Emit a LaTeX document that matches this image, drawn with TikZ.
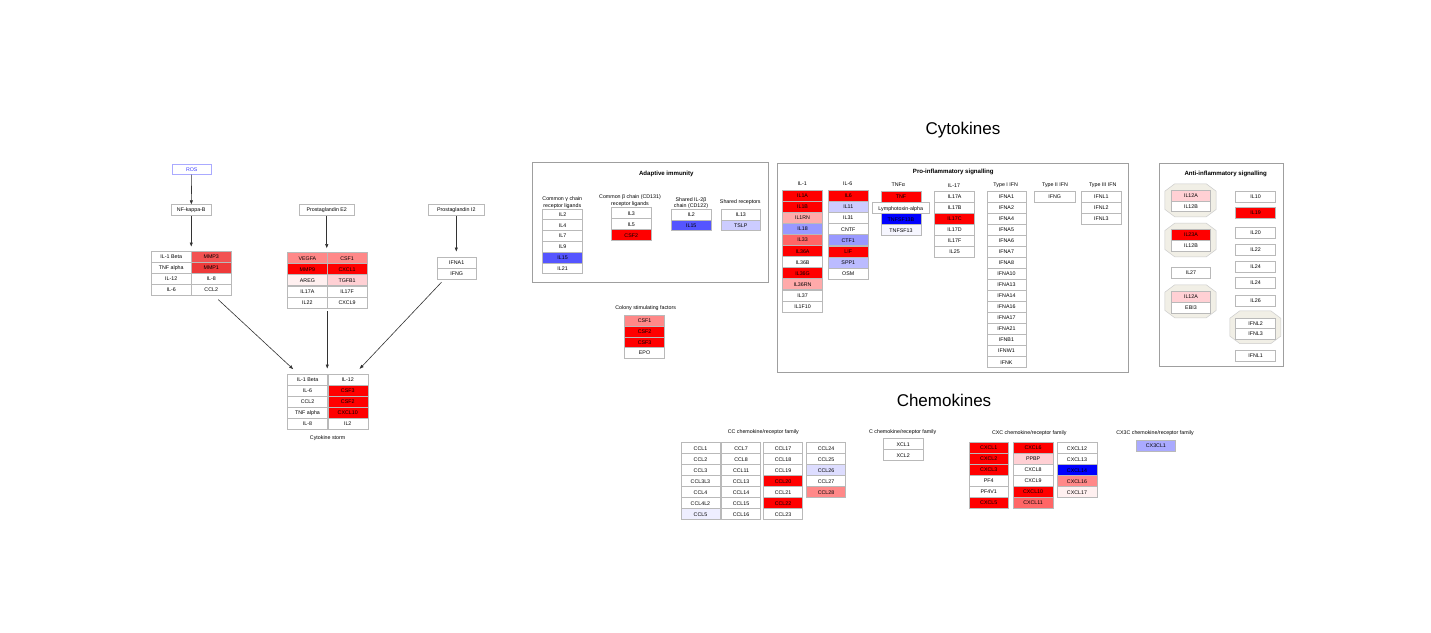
\documentclass[tikz,border=0pt]{standalone}
\usepackage{fontspec}
\setmainfont{Liberation Sans}
\usepackage{tikz}
\usetikzlibrary{arrows.meta, positioning, fit, calc}

% expression colours
\definecolor{r100}{HTML}{FF0000}
\definecolor{r80}{HTML}{EE3A3A}
\definecolor{r70}{HTML}{F25252}
\definecolor{r60}{HTML}{FF6666}
\definecolor{r50}{HTML}{FF8888}
\definecolor{r35}{HTML}{FFAAAA}
\definecolor{r20}{HTML}{FFD0D4}
\definecolor{r05}{HTML}{FFF0F0}
\definecolor{b100}{HTML}{0000FF}
\definecolor{b70}{HTML}{5555FF}
\definecolor{b45}{HTML}{9999FF}
\definecolor{b35}{HTML}{AAAAFF}
\definecolor{b30}{HTML}{BBBBFF}
\definecolor{b20}{HTML}{CCCCFF}
\definecolor{b15}{HTML}{DDDDFF}
\definecolor{b08}{HTML}{EEEEFF}
\definecolor{b04}{HTML}{F6F6FF}
\definecolor{cplxfill}{HTML}{F1EFE6}

\newcommand{\genefont}{\fontsize{5.3pt}{6.3pt}\selectfont}
\newcommand{\headfont}{\fontsize{6.1pt}{7pt}\selectfont\bfseries}
\newcommand{\bigfont}{\fontsize{17pt}{20pt}\selectfont}

\begin{document}
\begin{tikzpicture}[
    x=1pt, y=-1pt,
    gene/.style={draw=gray!55, fill=white, line width=0.5pt, font=\genefont, minimum width=40pt, minimum height=11pt, inner sep=0pt, anchor=north west, text height=3.9pt, text depth=0pt},
    grplbl/.style={font=\genefont, align=center, inner sep=0pt},
    head/.style={font=\headfont, inner sep=0pt},
    frame/.style={draw=gray!75, line width=0.7pt, inner sep=0pt, anchor=north west},
    cplxnode/.style={inner sep=0pt},
    cplx/.style={draw=gray!40, fill=cplxfill, line width=0.5pt},
    arr/.style={-{Triangle[length=4pt, width=3pt]}, draw=black!80, line width=0.6pt}
]

  \fill[white] (0,0) rectangle (1431,632);
  \useasboundingbox (0,0) rectangle (1431,632);

  % Section titles
  \node[font=\bigfont] (cytoTitle) at (963,130) {Cytokines};
  \node[font=\bigfont] (chemoTitle) at (944,400.8) {Chemokines};

  % Left: triggers of the cytokine storm
  \node[gene, draw=b35, text=blue!75, minimum width=39pt, minimum height=10pt] (ros) at (172,164) {ROS};
  \node[gene, minimum height=10.7pt] (nfkb) at (171,204.3) {NF-kappa-B};
  \node[gene, minimum width=55pt, minimum height=10.7pt] (pge2) at (299,204.3) {Prostaglandin E2};
  \node[gene, minimum width=55.5pt, minimum height=10.7pt] (pgi2) at (428.3,204.3) {Prostaglandin I2};

  \foreach \a/\ca/\b/\cb [count=\i from 0] in {IL-1 Beta/white/MMP3/r70, TNF alpha/white/MMP1/r80, IL-12/white/IL-8/white, IL-6/white/CCL2/white}{
    \node[gene, fill=\ca] (nfA\i) at (151,{250.7+11.07*\i}) {\a};
    \node[gene, fill=\cb] (nfB\i) at (191,{250.7+11.07*\i}) {\b};
  }
  \node[fit=(nfA0)(nfB3), inner sep=0pt] (nfGrp) {};

  \foreach \a/\ca/\b/\cb [count=\i from 0] in {VEGFA/r50/CSF1/r50, MMP9/r100/CXCL1/r100, AREG/r05/TGFB1/r20, IL17A/white/IL17F/white, IL22/white/CXCL9/white}{
    \node[gene, fill=\ca, minimum width=39.7pt] (peA\i) at (287.3,{252.3+11.07*\i}) {\a};
    \node[gene, fill=\cb, minimum width=39.7pt] (peB\i) at (327,{252.3+11.07*\i}) {\b};
  }
  \node[fit=(peA0)(peB4), inner sep=0pt] (peGrp) {};

  \foreach \g [count=\i from 0] in {IFNA1, IFNG}
    \node[gene, minimum width=39.5pt] (pi\i) at (436.7,{256.7+11.2*\i}) {\g};
  \node[fit=(pi0)(pi1), inner sep=0pt] (piGrp) {};

  \foreach \a/\ca/\b/\cb [count=\i from 0] in {IL-1 Beta/white/IL-12/white, IL-6/white/CSF3/r100, CCL2/white/CSF2/r100, TNF alpha/white/CXCL10/r100, IL-8/white/IL2/white}{
    \node[gene, fill=\ca] (stA\i) at (287.3,{373.7+11.07*\i}) {\a};
    \node[gene, fill=\cb] (stB\i) at (327.5,{373.7+11.07*\i}) {\b};
  }
  \node[fit=(stA0)(stB4), inner sep=0pt] (stGrp) {};
  \node[grplbl, below=5.5pt of stGrp] (stormLbl) {Cytokine storm};

  \draw[arr] (ros) -- (nfkb);
  \draw[arr, shorten >=4pt] (nfkb) -- (nfkb |- nfGrp.north);
  \draw[arr, shorten >=4pt] (pge2) -- (pge2 |- peGrp.north);
  \draw[arr, shorten >=5pt] (pgi2) -- (pgi2 |- piGrp.north);
  \draw[arr] ([xshift=27pt, yshift=-4pt]nfGrp.south) -- ([xshift=6pt, yshift=4.4pt]stGrp.north west);
  \draw[arr, shorten <=3pt, shorten >=5pt] (peGrp.south) -- (peGrp.south |- stGrp.north);
  \draw[arr] ([xshift=5pt, yshift=-2.6pt]piGrp.south west) -- ([xshift=-8.5pt, yshift=4.7pt]stGrp.north east);

  % Adaptive immunity
  \node[frame, minimum width=236.5pt, minimum height=120.5pt] (adaptFrame) at (531.5,161.5) {};
  \node[head] (adaptTitle) at (666.3,173.7) {Adaptive immunity};
  \node[grplbl] (gammaLbl) at (562.3,202.5) {Common γ chain\\receptor ligands};
  \node[grplbl] (betaLbl) at (630,200.7) {Common β chain (CD131)\\receptor ligands};
  \node[grplbl] (il2bLbl) at (691,203.2) {Shared IL-2β\\chain (CD122)};
  \node[grplbl] (sharedLbl) at (740.3,202.3) {Shared receptors};
  \foreach \g/\c [count=\i from 0] in {IL2/white, IL4/white, IL7/white, IL9/white, IL15/b70, IL21/white}
    \node[gene, fill=\c, minimum height=10.8pt] (gamma\i) at (542.3,{208.7+10.77*\i}) {\g};
  \foreach \g/\c [count=\i from 0] in {IL3/white, IL5/white, CSF2/r100}
    \node[gene, fill=\c, minimum width=39.4pt] (beta\i) at (611.3,{207.3+11*\i}) {\g};
  \foreach \g/\c [count=\i from 0] in {IL2/white, IL15/b70}
    \node[gene, fill=\c, minimum width=39.4pt, minimum height=10.8pt] (il2b\i) at (671.3,{208.7+10.8*\i}) {\g};
  \foreach \g/\c [count=\i from 0] in {IL13/white, TSLP/b20}
    \node[gene, fill=\c, minimum width=39.6pt, minimum height=10.8pt] (shared\i) at (720.7,{208.7+10.8*\i}) {\g};

  % Colony stimulating factors
  \node[grplbl] (csfLbl) at (645.7,308.3) {Colony stimulating factors};
  \foreach \g/\c [count=\i from 0] in {CSF1/r50, CSF2/r100, CSF3/r100, EPO/white}
    \node[gene, fill=\c, minimum height=10.7pt] (csf\i) at (624.3,{315.3+10.7*\i}) {\g};

  % Pro-inflammatory signalling
  \node[frame, minimum width=351pt, minimum height=209pt] (proFrame) at (777,163) {};
  \node[head] (proTitle) at (953.3,172) {Pro-inflammatory signalling};
  \node[grplbl] (il1Lbl) at (802.3,184) {IL-1};
  \node[grplbl] (il6Lbl) at (847.7,184) {IL-6};
  \node[grplbl] (tnfLbl) at (898.3,184.7) {TNFα};
  \node[grplbl] (il17Lbl) at (954,185.3) {IL-17};
  \node[grplbl] (ifn1Lbl) at (1005.7,185.3) {Type I IFN};
  \node[grplbl] (ifn2Lbl) at (1055,185.3) {Type II IFN};
  \node[grplbl] (ifn3Lbl) at (1102.7,185.3) {Type III IFN};
  \foreach \g/\c [count=\i from 0] in {IL1A/r100, IL1B/r100, IL1RN/r35, IL18/b45, IL33/r60, IL36A/r100, IL36B/white, IL36G/r100, IL36RN/r35, IL37/white, IL1F10/white}
    \node[gene, fill=\c] (ilOne\i) at (782.3,{190+11.06*\i}) {\g};
  \foreach \g/\c [count=\i from 0] in {IL6/r100, IL11/b20, IL31/white, CNTF/white, CTF1/b45, LIF/r100, SPP1/b30, OSM/white}
    \node[gene, fill=\c, minimum width=39.4pt] (ilSix\i) at (828.3,{190+11.1*\i}) {\g};
  \node[gene, fill=r100, minimum height=10.7pt] (tnf) at (880.7,191) {TNF};
  \node[gene, fill=b100] (tnfsfB) at (880.7,213.3) {TNFSF13B};
  \node[gene, fill=b04] (tnfsf) at (880.7,224.3) {TNFSF13};
  \node[gene, minimum width=56.4pt] (lta) at (872.3,202.3) {Lymphotoxin-alpha};
  \foreach \g/\c [count=\i from 0] in {IL17A/white, IL17B/white, IL17C/r100, IL17D/white, IL17F/white, IL25/white}
    \node[gene, fill=\c] (ilSeventeen\i) at (934.3,{191+11*\i}) {\g};
  \foreach \g [count=\i from 0] in {IFNA1, IFNA2, IFNA4, IFNA5, IFNA6, IFNA7, IFNA8, IFNA10, IFNA13, IFNA14, IFNA16, IFNA17, IFNA21, IFNB1, IFNW1, IFNK}
    \node[gene, minimum width=39pt] (ifnOne\i) at (986.7,{191+11.02*\i}) {\g};
  \node[gene, minimum width=41pt, minimum height=10.7pt] (ifng) at (1034,191) {IFNG};
  \foreach \g [count=\i from 0] in {IFNL1, IFNL2, IFNL3}
    \node[gene] (ifnThree\i) at (1081,{191+11*\i}) {\g};

  % Anti-inflammatory signalling
  \node[frame, minimum width=124pt, minimum height=203pt] (antiFrame) at (1159,163) {};
  \node[head] (antiTitle) at (1225.7,174) {Anti-inflammatory signalling};
  \node[cplxnode, minimum width=51pt, minimum height=32.7pt] (cplxA) at (1190.5,200.3) {};
  \node[cplxnode, minimum width=51pt, minimum height=33.4pt] (cplxB) at (1190.5,240) {};
  \node[cplxnode, minimum width=51pt, minimum height=32.7pt] (cplxC) at (1190.5,301.3) {};
  \node[cplxnode, minimum width=50.7pt, minimum height=32.3pt] (cplxD) at (1255.3,327.2) {};
  \foreach \n in {cplxA, cplxB, cplxC, cplxD}
    \draw[cplx] ([xshift=10pt]\n.north west) -- ([xshift=-10pt]\n.north east)
      -- ([yshift=-7.5pt]\n.north east) -- ([yshift=7.5pt]\n.south east)
      -- ([xshift=-10pt]\n.south east) -- ([xshift=10pt]\n.south west)
      -- ([yshift=7.5pt]\n.south west) -- ([yshift=-7.5pt]\n.north west) -- cycle;
  \node[gene, fill=r20, minimum width=39.4pt, minimum height=10.7pt] (il12aA) at (1171,190) {IL12A};
  \node[gene, minimum width=39.4pt, minimum height=10.7pt] (il12bA) at (1171,200.7) {IL12B};
  \node[gene, fill=r100, minimum width=39.4pt, minimum height=10.7pt] (il23a) at (1171,229.3) {IL23A};
  \node[gene, minimum width=39.4pt, minimum height=10.7pt] (il12bB) at (1171,240) {IL12B};
  \node[gene, minimum width=39.4pt, minimum height=10.7pt] (il27) at (1171,267.3) {IL27};
  \node[gene, fill=r20, minimum width=39.4pt, minimum height=10.7pt] (il12aC) at (1171,291) {IL12A};
  \node[gene, minimum width=39.4pt, minimum height=10.7pt] (ebi3) at (1171,302) {EBI3};
  \foreach \g/\c/\y [count=\i from 0] in {IL10/white/190.7, IL19/r100/207.3, IL20/white/227, IL22/white/244, IL24/white/260.7, IL24/white/277.3, IL26/white/295, IFNL2/white/317.7, IFNL3/white/328.3, IFNL1/white/350}
    \node[gene, fill=\c, minimum height=10.8pt] (anti\i) at (1235.3,\y) {\g};

  % CC chemokines
  \node[grplbl] (ccLbl) at (763.3,431.7) {CC chemokine/receptor family};
  \foreach \g/\c [count=\i from 0] in {CCL1/white, CCL2/white, CCL3/white, CCL3L3/white, CCL4/white, CCL4L2/white, CCL5/b08}
    \node[gene, fill=\c, minimum width=39pt] (ccA\i) at (680.7,{442.3+11*\i}) {\g};
  \foreach \g/\c [count=\i from 0] in {CCL7/white, CCL8/white, CCL11/white, CCL13/white, CCL14/white, CCL15/white, CCL16/white}
    \node[gene, fill=\c, minimum width=39pt] (ccB\i) at (721.3,{442.3+11*\i}) {\g};
  \foreach \g/\c [count=\i from 0] in {CCL17/white, CCL18/white, CCL19/white, CCL20/r100, CCL21/white, CCL22/r100, CCL23/white}
    \node[gene, fill=\c, minimum width=39pt] (ccC\i) at (763.3,{442.3+11*\i}) {\g};
  \foreach \g/\c [count=\i from 0] in {CCL24/white, CCL25/white, CCL26/b15, CCL27/white, CCL28/r50}
    \node[gene, fill=\c, minimum width=39pt] (ccD\i) at (806.3,{442.3+11*\i}) {\g};

  % C chemokines
  \node[grplbl] (cLbl) at (902.7,431.7) {C chemokine/receptor family};
  \foreach \g [count=\i from 0] in {XCL1, XCL2}
    \node[gene, minimum width=39.4pt] (xcl\i) at (883.3,{438.3+11*\i}) {\g};

  % CXC chemokines
  \node[grplbl] (cxcLbl) at (1029.3,433) {CXC chemokine/receptor family};
  \foreach \g/\c [count=\i from 0] in {CXCL1/r100, CXCL2/r100, CXCL3/r100, PF4/white, PF4V1/white, CXCL5/r100}
    \node[gene, fill=\c, minimum width=39.6pt] (cxcA\i) at (968.7,{441.7+11*\i}) {\g};
  \foreach \g/\c [count=\i from 0] in {CXCL6/r100, PPBP/r20, CXCL8/white, CXCL9/white, CXCL10/r100, CXCL11/r60}
    \node[gene, fill=\c, minimum width=39.7pt] (cxcB\i) at (1013,{441.7+11*\i}) {\g};
  \foreach \g/\c [count=\i from 0] in {CXCL12/white, CXCL13/white, CXCL14/b100, CXCL16/r50, CXCL17/r05}
    \node[gene, fill=\c] (cxcC\i) at (1056.7,{442.3+11*\i}) {\g};

  % CX3C chemokines
  \node[grplbl] (cx3cLbl) at (1155,433) {CX3C chemokine/receptor family};
  \node[gene, fill=b35, minimum width=39.3pt, minimum height=10.7pt] (cx3cl1) at (1136,440) {CX3CL1};

\end{tikzpicture}
\end{document}
